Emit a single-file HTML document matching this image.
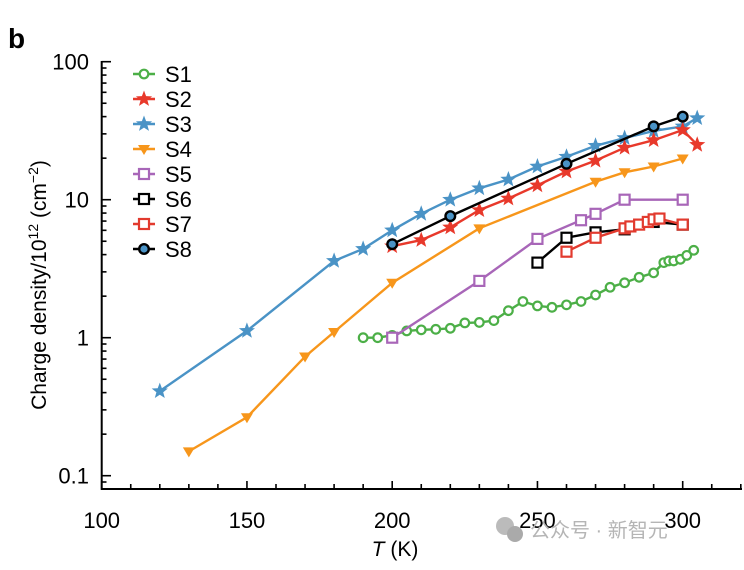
<!DOCTYPE html>
<html><head><meta charset="utf-8"><style>
body{margin:0;background:#fff}
svg{display:block;font-family:"Liberation Sans",Arial,sans-serif}
</style></head><body>
<svg id="c" width="744" height="570" viewBox="0 0 744 570">
<text x="8" y="48" font-size="28" font-weight="bold">b</text>
<g id="axes"></g><g id="series"></g><g id="legend"></g>
<text transform="translate(46,285) rotate(-90)" text-anchor="middle" font-size="21">Charge density/10<tspan font-size="14" dy="-8">12</tspan><tspan dy="8"> (cm</tspan><tspan font-size="14" dy="-8">−2</tspan><tspan dy="8">)</tspan></text>
<text x="395" y="556" text-anchor="middle" font-size="21"><tspan font-style="italic">T</tspan> (K)</text>
<g fill="#bbb">
<circle cx="505" cy="526" r="9"/><circle cx="515" cy="534" r="8" fill="#aaa"/>
<text x="530" y="537" font-size="20" font-family="'Liberation Sans','Noto Sans CJK SC',sans-serif" fill="#b5b5b5">公众号 · 新智元</text></g>
</svg>
<script>
const seriesNames=["S1","S2","S3","S4","S5","S6","S7","S8"];
const s1T=[190,195,200,205,210,215,220,225,230,235,240,245,250,255,260,265,270,275,280,285,290,293.5,295.2,296.9,299.2,301.4,303.8];
const s1V=[1.0,1.0,1.04,1.12,1.14,1.15,1.17,1.28,1.29,1.33,1.57,1.83,1.7,1.66,1.73,1.83,2.04,2.32,2.5,2.74,2.95,3.5,3.6,3.6,3.7,3.95,4.3];
const s2T=[200,210,220,230,240,250,260,270,280,290,300,305];
const s2V=[4.6,5.1,6.3,8.4,10.2,12.7,16,19.2,23.8,27,32,25];
const s3T=[120,150,180,190,200,210,220,230,240,250,260,270,280,290,300,305];
const s3V=[0.41,1.12,3.6,4.4,6.0,7.9,10,12.1,14,17.4,20.5,24.6,28,31.5,34,39];
const s4T=[130,150,170,180,200,230,270,280,290,300];
const s4V=[0.15,0.265,0.73,1.1,2.5,6.2,13.5,15.8,17.4,19.9];
const s5T=[200,230,250,265,270,280,300];
const s5V=[1.0,2.58,5.2,7.1,7.9,10,10];
const s6T=[250,260,270,280,290,300];
const s6V=[3.5,5.3,5.8,6.1,6.9,6.6];
const s7T=[260,270,280,282,285,288,290,292,300];
const s7V=[4.2,5.3,6.2,6.4,6.6,6.9,7.2,7.3,6.6];
const s8T=[200,220,260,290,300];
const s8V=[4.76,7.6,18.2,34,40];
const xTicks=[100,150,200,250,300];
const yTicks=[0.1,1,10,100];
const yTickLabels=["0.1","1","10","100"];

const NS="http://www.w3.org/2000/svg";
const X=t=>101.7+(t-100)*2.905;
const Y=v=>337.7-138*Math.log10(v);
function mk(tag,at,par){const e=document.createElementNS(NS,tag);for(const k in at)e.setAttribute(k,at[k]);par.appendChild(e);return e;}
const ax=document.getElementById('axes');
let a=mk('path',{d:`M101.7,61V489H742`,fill:'none',stroke:'#000','stroke-width':2},ax);


for(let t=100;t<=320;t+=10){const maj=t%50===0;const l=mk('line',{x1:X(t),x2:X(t),y1:489,y2:maj?481:484,stroke:'#000','stroke-width':1.6},ax);

}
xTicks.forEach(t=>{const e=mk('text',{x:X(t),y:528,'text-anchor':'middle','font-size':22},ax);e.textContent=t;

});
for(let d=-2;d<2;d++)for(let m=1;m<10;m++){const v=m*Math.pow(10,d);const y=Y(v);if(y>489||y<60)continue;
const l=mk('line',{x1:101.7,x2:m===1?111:106.5,y1:y,y2:y,stroke:'#000','stroke-width':1.6},ax);

}
const lt=mk('line',{x1:101.7,x2:111,y1:Y(100),y2:Y(100),stroke:'#000','stroke-width':1.6},ax);


yTicks.forEach((v,i)=>{const e=mk('text',{x:89,y:Y(v)+8,'text-anchor':'end','font-size':22},ax);e.textContent=yTickLabels[i];

});
const colors=['#4caf47','#e8392b','#4a93c6','#f7961b','#a866b8','#000','#e23a2e','#000'];
const marks=['circle','star','star','tri','sq','sq','sq','dot'];
const Ts=[s1T,s2T,s3T,s4T,s5T,s6T,s7T,s8T],Vs=[s1V,s2V,s3V,s4V,s5V,s6V,s7V,s8V];
function star(cx,cy,r){let p=[];for(let i=0;i<10;i++){const a=-Math.PI/2+i*Math.PI/5;const rr=i%2?r*0.42:r;p.push((cx+rr*Math.cos(a)).toFixed(1)+','+(cy+rr*Math.sin(a)).toFixed(1));}return p.join(' ');}
function marker(g,k,x,y,c){let e;
if(k==='circle')e=mk('circle',{cx:x,cy:y,r:4.3,fill:'#fff',stroke:c,'stroke-width':2.2},g);
else if(k==='star')e=mk('polygon',{points:star(x,y,8.5),fill:c},g);
else if(k==='tri')e=mk('polygon',{points:`${x-6},${y-4} ${x+6},${y-4} ${x},${y+6}`,fill:c},g);
else if(k==='sq')e=mk('rect',{x:x-5,y:y-5,width:10,height:10,fill:'#fff',stroke:c,'stroke-width':2.2},g);
else e=mk('circle',{cx:x,cy:y,r:4.8,fill:'#4a93c6',stroke:'#000','stroke-width':2.4},g);

}
const sg=document.getElementById('series');
const order=[0,4,3,2,1,5,6,7];
order.forEach(i=>{const g=mk('g',{},sg);


const d=Ts[i].map((t,j)=>(j?'L':'M')+X(t).toFixed(1)+','+Y(Vs[i][j]).toFixed(1)).join('');
mk('path',{d:d,fill:'none',stroke:colors[i],'stroke-width':2.4},g);
Ts[i].forEach((t,j)=>marker(g,marks[i],X(t),Y(Vs[i][j]),colors[i]));});
const lg=document.getElementById('legend');
seriesNames.forEach((n,i)=>{const y=74+i*25;const g=mk('g',{},lg);


mk('line',{x1:133,x2:155,y1:y,y2:y,stroke:colors[i],'stroke-width':2.4},g);
marker(g,marks[i],144,y,colors[i]);
const t=mk('text',{x:165,y:y+8,'font-size':22},g);t.textContent=n;});
</script>
</body></html>
